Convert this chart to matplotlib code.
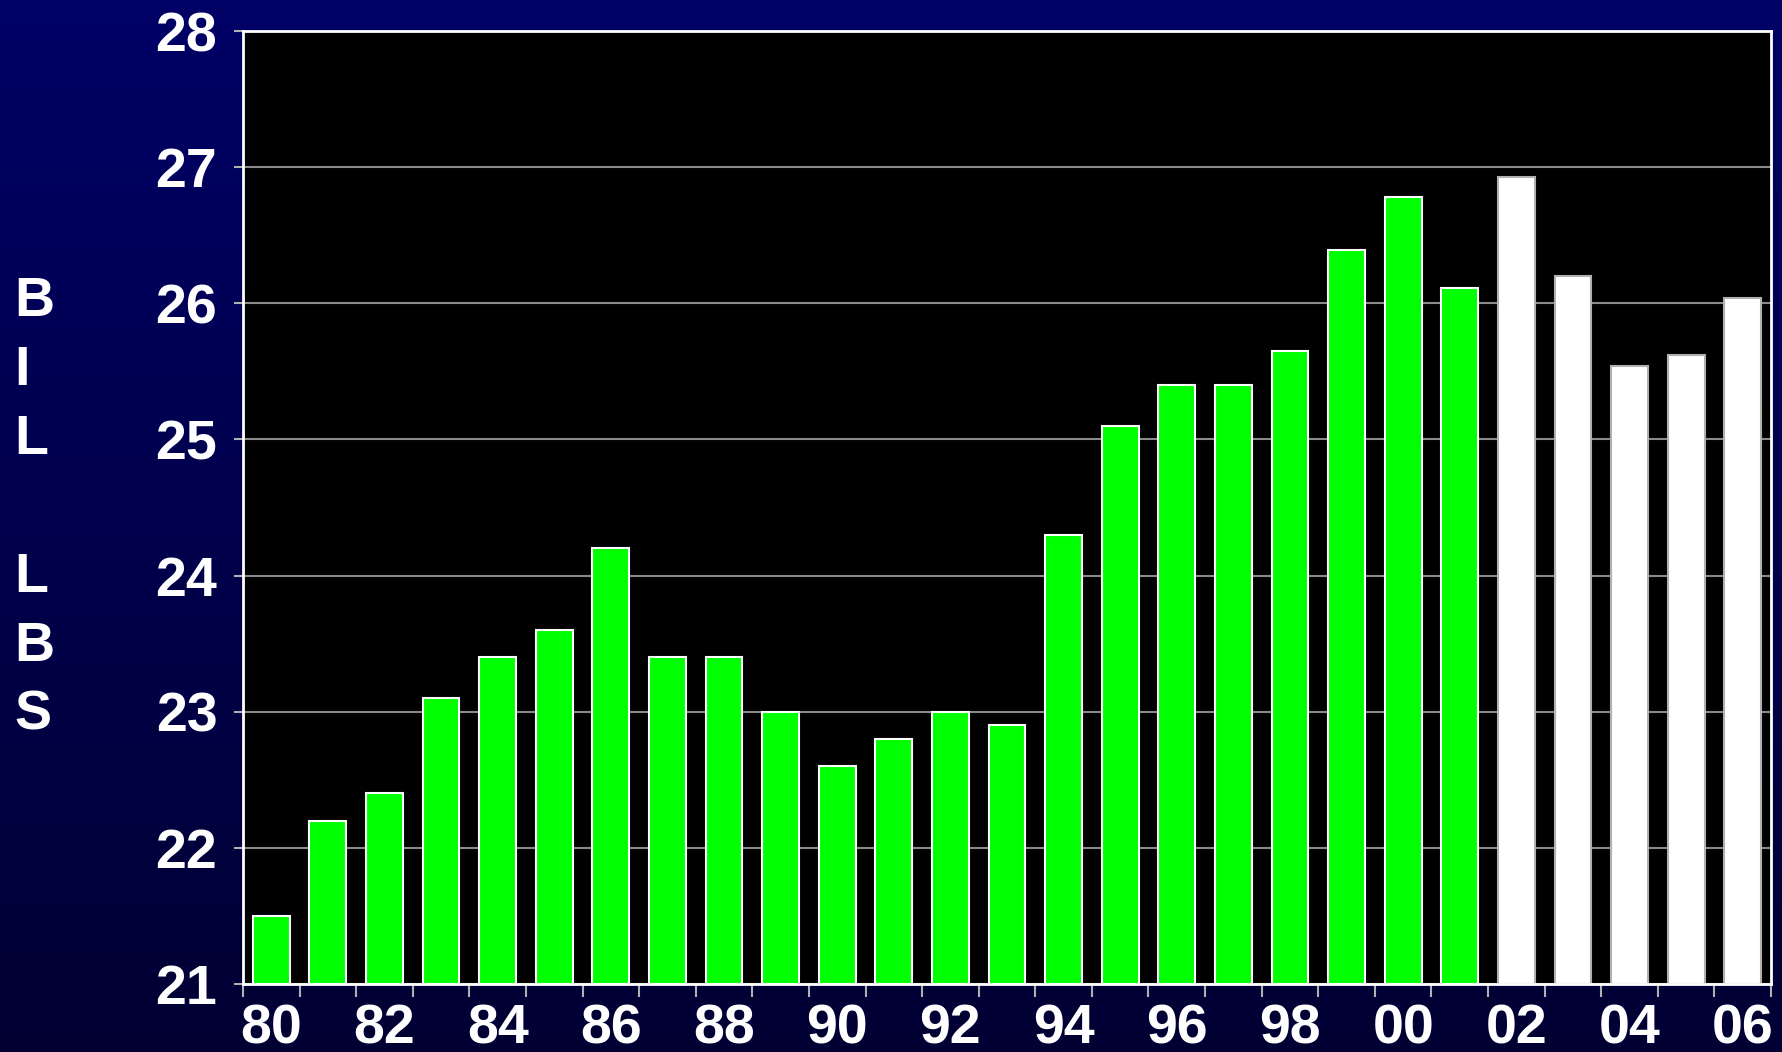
# ============================================================
# import
# ============================================================
import numpy as np
import matplotlib
matplotlib.use('Agg')
import matplotlib.pyplot as plt


# ============================================================
# data
# ============================================================
years = ['80', '81', '82', '83', '84', '85', '86', '87', '88', '89',
         '90', '91', '92', '93', '94', '95', '96', '97', '98', '99',
         '00', '01', '02', '03', '04', '05', '06']
values = [21.5, 22.2, 22.4, 23.1, 23.4, 23.6, 24.2, 23.4, 23.4, 23.0,
          22.6, 22.8, 23.0, 22.9, 24.3, 25.1, 25.4, 25.4, 25.65, 26.39,
          26.78, 26.11, 26.93, 26.2, 25.54, 25.62, 26.04]
n_actual = 22          # 80..01 green, 02..06 white (projected)
ylabel_letters = ['B', 'I', 'L', '', 'L', 'B', 'S']
yticks = [21, 22, 23, 24, 25, 26, 27, 28]


# ============================================================
# plot
# ============================================================
plt.rcParams['font.family'] = ['Liberation Sans', 'DejaVu Sans']
plt.rcParams['font.weight'] = 'bold'

W, H, DPI = 1783, 1052, 100
fig = plt.figure(figsize=(W / DPI, H / DPI), dpi=DPI)

# gradient background
bg = fig.add_axes([0, 0, 1, 1], zorder=-10)
grad = np.linspace(0, 1, 256).reshape(-1, 1)
top = np.array([0, 0, 102]) / 255
bot = np.array([0, 0, 51]) / 255
img = top[None, None, :] * (1 - grad[:, :, None]) + bot[None, None, :] * grad[:, :, None]
bg.imshow(img, aspect='auto', extent=[0, 1, 0, 1])
bg.set_axis_off()

ax = fig.add_axes([243 / W, 1 - 984 / H, (1771 - 243) / W, (984 - 31) / H])
ax.set_facecolor('black')

x = np.arange(len(years))
colors = ['#00ff00'] * n_actual + ['white'] * (len(years) - n_actual)
edges = ['white'] * n_actual + ['#b0b0b0'] * (len(years) - n_actual)
ax.bar(x, [v - 21 for v in values], bottom=21, width=0.65,
       color=colors, edgecolor=edges, linewidth=1.5, zorder=3)

ax.set_xlim(-0.5, len(years) - 0.5)
ax.set_ylim(21, 28)

ax.set_yticks(yticks)
ax.set_yticklabels([str(t) for t in yticks])
ax.yaxis.grid(True, color='#8a8a8a', linewidth=1.5, zorder=1)

# major ticks at category boundaries, labels on every second category
ax.set_xticks(np.arange(-0.5, len(years), 1.0))
ax.set_xticklabels([])
ax.set_xticks(x[::2], minor=True)
ax.set_xticklabels(years[::2], minor=True)

ax.tick_params(axis='x', which='major', direction='out', length=9,
               width=1.5, color='#b0b0b0')
ax.tick_params(axis='x', which='minor', length=0, pad=14,
               labelsize=40, labelcolor='white')
ax.tick_params(axis='y', direction='out', length=6.5, width=1.5,
               color='#b0b0b0', pad=12, labelsize=40, labelcolor='white')
for lab in ax.get_xticklabels(minor=True) + ax.get_yticklabels():
    lab.set_fontweight('bold')

for s in ax.spines.values():
    s.set_color('white')
    s.set_linewidth(2)
    s.set_zorder(4)

# vertical stacked axis label (left aligned letters)
for i, ch in enumerate(ylabel_letters):
    fig.text(14 / W, 1 - (302 + i * 69) / H, ch, color='white',
             fontsize=40, fontweight='bold', ha='left', va='center')

plt.savefig('out.png', dpi=DPI, facecolor=fig.get_facecolor())
